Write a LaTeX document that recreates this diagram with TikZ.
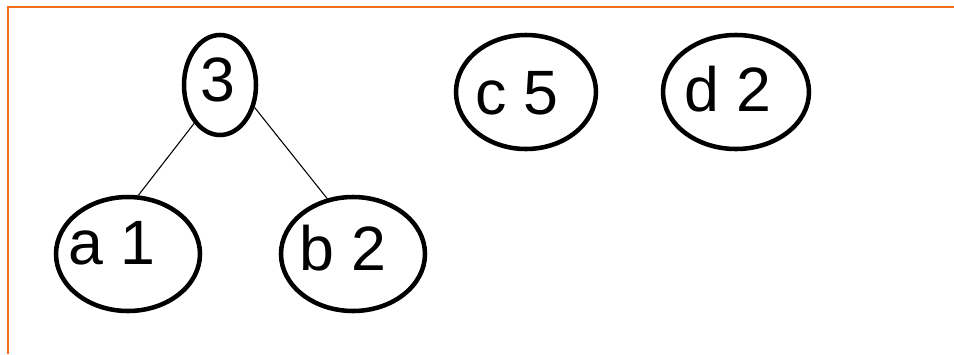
\documentclass[tikz,border=0pt]{standalone}
\usepackage{fontspec}
\setmainfont{Liberation Sans}
\usetikzlibrary{shapes.geometric}
\definecolor{framec}{RGB}{242,110,28}
\tikzset{
  oval/.style={draw,ellipse,line width=3.4pt,inner sep=0pt,minimum width=108pt,minimum height=85.5pt},
  txt/.style={inner sep=0pt,font=\fontsize{47}{56}\selectfont},
  edge/.style={line width=0.8pt}
}
\begin{document}
\begin{tikzpicture}[x=0.75pt,y=-0.75pt]
  \useasboundingbox (0,0) rectangle (954,354);
  \draw[framec,line width=1.5pt] (7.5,354) |- (954,6.5);
  % tree
  \node[oval,minimum width=54pt,minimum height=75pt] (n3) at (220,85) {};
  \node[oval] (a1) at (128,254) {};
  \node[oval] (b2) at (353,254) {};
  % single nodes
  \node[oval,minimum width=105pt] (c5) at (526,92) {};
  \node[oval,minimum width=109.5pt] (d2) at (736,92) {};
  \node[txt] (t3) at (218,80) {3};
  \node[txt] (ta1) at (112,243) {a 1};
  \node[txt] (tb2) at (343,248) {b 2};
  \node[txt] (tc5) at (517,93) {c 5};
  \node[txt] (td2) at (728,89) {d 2};
  \draw[edge] (n3.236) -- (a1.80);
  \draw[edge] (n3.327) -- (b2.115);
\end{tikzpicture}
\end{document}
